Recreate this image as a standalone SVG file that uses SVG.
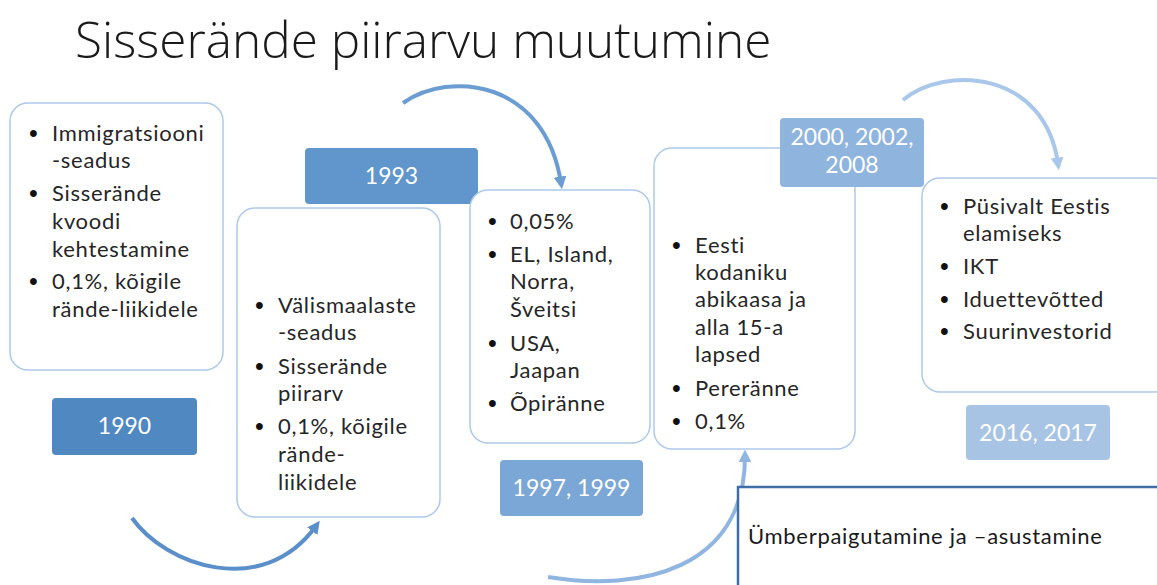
<svg xmlns="http://www.w3.org/2000/svg" width="1157" height="585" viewBox="0 0 1157 585">
<style>
.t{font-family:Lato,"Open Sans","Liberation Sans",sans-serif;font-size:22px;letter-spacing:0.7px;fill:#262626}
.b{font-family:"Liberation Sans",Arial,sans-serif;font-size:25px;letter-spacing:0;fill:#111111}
.w{font-family:Lato,"Open Sans","Liberation Sans",sans-serif;font-size:23px;fill:#ffffff;text-anchor:middle}
.box{fill:#ffffff;stroke:#adc9ea;stroke-width:1.5}
.arr{fill:none;stroke-width:4;stroke-linecap:butt}
</style>
<defs>
<marker id="m1" viewBox="0 0 10 10" refX="5" refY="5" markerWidth="3.2" markerHeight="3.2" orient="auto"><path d="M0,0 L10,5 L0,10 Z" fill="#5b8fc9"/></marker>
<marker id="m2" viewBox="0 0 10 10" refX="5" refY="5" markerWidth="3.2" markerHeight="3.2" orient="auto"><path d="M0,0 L10,5 L0,10 Z" fill="#6b9dd2"/></marker>
<marker id="m3" viewBox="0 0 10 10" refX="5" refY="5" markerWidth="3.2" markerHeight="3.2" orient="auto"><path d="M0,0 L10,5 L0,10 Z" fill="#8fb5e0"/></marker>
<marker id="m4" viewBox="0 0 10 10" refX="5" refY="5" markerWidth="3.2" markerHeight="3.2" orient="auto"><path d="M0,0 L10,5 L0,10 Z" fill="#a9c7ea"/></marker>
</defs>
<rect width="1157" height="585" fill="#ffffff"/>
<text x="75" y="58" style="font-family:'Open Sans',Lato,'Liberation Sans',sans-serif;font-size:49.5px;font-weight:300;fill:#1a1a1a">Sisserände piirarvu muutumine</text>

<g id="connectors">
<path class="arr" stroke="#5b8fc9" d="M132,518 C165,565 262,600 316,526" marker-end="url(#m1)"/>
<path class="arr" stroke="#6b9dd2" d="M403,103 C450,70 545,80 561,183" marker-end="url(#m2)"/>
<path class="arr" stroke="#8fb5e0" d="M548,577 C640,592 745,570 745,456" marker-end="url(#m3)"/>
<path class="arr" stroke="#a9c7ea" d="M903,100 C945,65 1045,70 1058,164" marker-end="url(#m4)"/>
</g>

<g id="node-box1">
<rect class="box" x="10" y="103" width="213" height="267" rx="18"/>
<text class="t"><tspan class="b" x="29" y="142">•</tspan><tspan x="52" y="141">Immigratsiooni</tspan><tspan x="52" y="168">-seadus</tspan>
<tspan class="b" x="29" y="202">•</tspan><tspan x="52" y="201">Sisserände</tspan><tspan x="52" y="229">kvoodi</tspan><tspan x="52" y="257">kehtestamine</tspan>
<tspan class="b" x="29" y="290">•</tspan><tspan x="52" y="289">0,1%, kõigile</tspan><tspan x="52" y="317">rände-liikidele</tspan></text>
</g>
<g id="node-1990">
<rect x="52" y="398" width="145" height="57" rx="4" fill="#5089c1"/>
<text class="w" x="124.5" y="434">1990</text>
</g>

<g id="node-box2">
<rect class="box" x="237" y="208" width="203" height="309" rx="18"/>
<text class="t"><tspan class="b" x="255" y="314">•</tspan><tspan x="278" y="313">Välismaalaste</tspan><tspan x="278" y="340">-seadus</tspan>
<tspan class="b" x="255" y="375">•</tspan><tspan x="278" y="374">Sisserände</tspan><tspan x="278" y="401">piirarv</tspan>
<tspan class="b" x="255" y="435">•</tspan><tspan x="278" y="434">0,1%, kõigile</tspan><tspan x="278" y="462">rände-</tspan><tspan x="278" y="490">liikidele</tspan></text>
</g>
<g id="node-1993">
<rect x="305" y="148" width="173" height="56" rx="4" fill="#6096cb"/>
<text class="w" x="391.5" y="184">1993</text>
</g>

<g id="node-box3">
<rect class="box" x="470" y="190" width="180" height="253" rx="18"/>
<text class="t"><tspan class="b" x="488" y="230">•</tspan><tspan x="510" y="229">0,05%</tspan>
<tspan class="b" x="488" y="263">•</tspan><tspan x="510" y="262">EL, Island,</tspan><tspan x="510" y="289">Norra,</tspan><tspan x="510" y="317">Šveitsi</tspan>
<tspan class="b" x="488" y="352">•</tspan><tspan x="510" y="351">USA,</tspan><tspan x="510" y="378">Jaapan</tspan>
<tspan class="b" x="488" y="412">•</tspan><tspan x="510" y="411">Õpiränne</tspan></text>
</g>
<g id="node-1997">
<rect x="500" y="460" width="143" height="56" rx="4" fill="#7ba7d7"/>
<text class="w" x="571.5" y="496">1997, 1999</text>
</g>

<g id="node-box4">
<rect class="box" x="654" y="148" width="201" height="301" rx="18"/>
<text class="t"><tspan class="b" x="672" y="254">•</tspan><tspan x="695" y="253">Eesti</tspan><tspan x="695" y="280">kodaniku</tspan><tspan x="695" y="307">abikaasa ja</tspan><tspan x="695" y="335">alla 15-a</tspan><tspan x="695" y="362">lapsed</tspan>
<tspan class="b" x="672" y="397">•</tspan><tspan x="695" y="396">Pereränne</tspan>
<tspan class="b" x="672" y="430">•</tspan><tspan x="695" y="429">0,1%</tspan></text>
</g>
<g id="node-2000">
<rect x="780" y="118" width="144" height="69" rx="4" fill="#8fb4de"/>
<text class="w"><tspan x="852" y="145">2000, 2002,</tspan><tspan x="852" y="173">2008</tspan></text>
</g>

<g id="node-box5">
<rect x="738" y="487" width="430" height="110" fill="#ffffff" stroke="#3f6ea6" stroke-width="2.5"/>
<text class="t" x="748" y="544" style="fill:#1a1a1a">Ümberpaigutamine ja –asustamine</text>
</g>

<g id="node-box6">
<rect class="box" x="922" y="178" width="250" height="214" rx="18"/>
<text class="t"><tspan class="b" x="940" y="215">•</tspan><tspan x="963" y="214">Püsivalt Eestis</tspan><tspan x="963" y="241">elamiseks</tspan>
<tspan class="b" x="940" y="275">•</tspan><tspan x="963" y="274">IKT</tspan>
<tspan class="b" x="940" y="308">•</tspan><tspan x="963" y="307">Iduettevõtted</tspan>
<tspan class="b" x="940" y="340">•</tspan><tspan x="963" y="339">Suurinvestorid</tspan></text>
</g>
<g id="node-2016">
<rect x="966" y="405" width="144" height="55" rx="4" fill="#a8c4e5"/>
<text class="w" x="1038" y="441">2016, 2017</text>
</g>
</svg>
